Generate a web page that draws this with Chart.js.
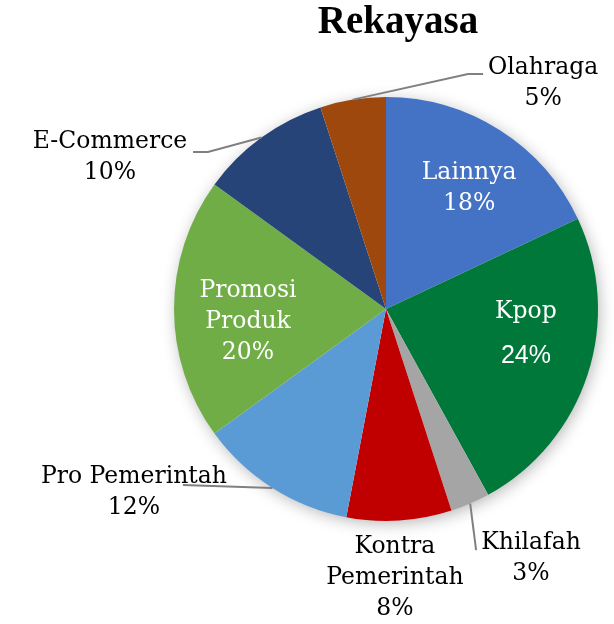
<!DOCTYPE html>
<html><head><meta charset="utf-8">
<script src="https://cdn.jsdelivr.net/npm/chart.js@4"></script>
<style>html,body{margin:0;padding:0;background:#fff}canvas{display:block}</style>
</head><body>
<canvas id="c" width="614" height="624"></canvas>
<script>
const title = 'Rekayasa';
const categories = ['Lainnya','Kpop','Khilafah','Kontra Pemerintah','Pro Pemerintah','Promosi Produk','E-Commerce','Olahraga'];
const values = [18, 24, 3, 8, 12, 20, 10, 5];
const colors = ['#4472C4','#00783A','#A5A5A5','#C00000','#5B9BD5','#70AD47','#264478','#9E480E'];
const labelLines = [['Lainnya'],['Kpop'],['Khilafah'],['Kontra','Pemerintah'],['Pro Pemerintah'],['Promosi','Produk'],['E-Commerce'],['Olahraga']];

// label placement, in fractions of the pie radius relative to the pie centre
const labelLayout = [
  {inside:true, fx:0.392, fy:-0.571},
  {inside:true, fx:0.660, fy:0.118, pctFont:'25px "Liberation Sans", Arial, sans-serif', gap:45},
  {fx:0.684, fy:1.177, leader:[[0.425,1.137]]},
  {fx:0.042, fy:1.269},
  {fx:-1.189, fy:0.863, leader:[[-0.958,0.830]]},
  {inside:true, fx:-0.651, fy:0.061},
  {fx:-1.302, fy:-0.717, leader:[[-0.840,-0.741],[-0.910,-0.741]]},
  {fx:0.741, fy:-1.064, leader:[[0.387,-1.108],[0.458,-1.108]]}
];

const SERIF = '"DejaVu Serif",serif';
const LABEL_FONT = '23.5px ' + SERIF;
const TITLE_FONT = 'bold 39px "Liberation Serif","Times New Roman",serif';
const LINE_H = 31;

const shadowPlugin = {
  id:'shadow',
  beforeDatasetsDraw(chart){
    const arc = chart.getDatasetMeta(0).data[0];
    if(!arc) return;
    const {x,y,outerRadius} = arc.getProps(['x','y','outerRadius'], true);
    const ctx = chart.ctx;
    ctx.save();
    ctx.shadowColor = 'rgba(0,0,0,0.3)';
    ctx.shadowBlur = 16;
    ctx.shadowOffsetX = 2; ctx.shadowOffsetY = 3;
    ctx.fillStyle = '#fff';
    ctx.beginPath(); ctx.arc(x,y,outerRadius-1,0,Math.PI*2); ctx.fill();
    ctx.restore();
  }
};

const labelPlugin = {
  id:'pieLabels',
  afterDatasetsDraw(chart){
    const ctx = chart.ctx;
    const meta = chart.getDatasetMeta(0);
    ctx.save();
    ctx.fillStyle = '#000';
    ctx.font = TITLE_FONT;
    ctx.textAlign = 'center';
    ctx.textBaseline = 'alphabetic';
    ctx.fillText(title, 398, 33);

    meta.data.forEach((arc, i) => {
      const p = arc.getProps(['x','y','startAngle','endAngle','outerRadius'], true);
      const R = p.outerRadius;
      const mid = (p.startAngle + p.endAngle) / 2;
      const L = labelLayout[i];
      const tx = p.x + R * L.fx, ty = p.y + R * L.fy;
      if (L.leader){
        ctx.strokeStyle = '#808080';
        ctx.lineWidth = 2;
        ctx.beginPath();
        ctx.moveTo(p.x + R*Math.cos(mid), p.y + R*Math.sin(mid));
        L.leader.forEach(q => ctx.lineTo(p.x + R*q[0], p.y + R*q[1]));
        ctx.stroke();
      }
      const lines = labelLines[i].slice();
      const pct = values[i] + '%';
      const gap = L.gap || LINE_H;
      const n = lines.length;
      const totalH = (n - 1) * LINE_H + gap;
      let y0 = ty - totalH / 2;
      ctx.fillStyle = L.inside ? '#fff' : '#000';
      ctx.textAlign = 'center';
      ctx.textBaseline = 'middle';
      ctx.font = LABEL_FONT;
      lines.forEach((s, k) => ctx.fillText(s, tx, y0 + k * LINE_H));
      ctx.font = L.pctFont || LABEL_FONT;
      ctx.fillText(pct, tx, y0 + (n - 1) * LINE_H + gap);
    });
    ctx.restore();
  }
};

new Chart(document.getElementById('c'), {
  type:'pie',
  data:{ labels:categories, datasets:[{ data:values, backgroundColor:colors, borderWidth:0 }] },
  options:{
    responsive:false, animation:false,
    layout:{ padding:{ left:174, right:16, top:97, bottom:103 } },
    plugins:{ legend:{display:false}, tooltip:{enabled:false}, title:{display:false} }
  },
  plugins:[shadowPlugin, labelPlugin]
});
</script>
</body></html>
